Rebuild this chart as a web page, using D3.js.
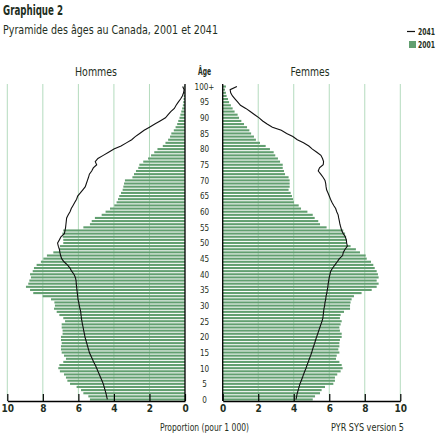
<!DOCTYPE html>
<html>
<head>
<meta charset="utf-8">
<script src="https://cdn.jsdelivr.net/npm/d3@7"></script>
<style>
	body { margin: 0; background: #fff; }
	svg text { font-family: "Liberation Sans Narrow", "DejaVu Sans Condensed", "Arial Narrow", sans-serif; fill: #1f2f22; }
</style>
</head>
<body>
<div id="chart"></div>
<script>
// Data: proportion per 1 000, index = age (0 .. 100+)
var ages = d3.range(0, 101);
var ageLabels = ['0', '5', '10', '15', '20', '25', '30', '35', '40', '45', '50', '55', '60', '65', '70', '75', '80', '85', '90', '95', '100+'];
var xTicks = [0, 2, 4, 6, 8, 10];

var men2001 = [
	5.35, 5.44, 5.72, 5.85, 6.10, 6.47, 6.62, 6.70, 6.81, 7.04,
	7.13, 7.07, 6.85, 6.70, 6.81, 6.94, 6.98, 6.98, 6.94, 6.98,
	6.98, 6.89, 6.89, 6.94, 6.94, 6.75, 6.85, 7.07, 7.22, 7.37,
	7.32, 7.35, 7.54, 8.01, 8.54, 8.72, 8.95, 8.82, 8.76, 8.67,
	8.72, 8.57, 8.50, 8.35, 8.11, 7.97, 7.77, 7.41, 7.07, 7.04,
	6.85, 6.85, 6.88, 6.90, 6.85, 5.72, 5.35, 5.25, 5.07, 4.69,
	4.47, 4.22, 3.98, 3.85, 3.77, 3.70, 3.60, 3.51, 3.47, 3.43,
	3.38, 2.96, 2.87, 2.76, 2.63, 2.57, 2.35, 2.08, 1.91, 1.73,
	1.55, 1.25, 1.10, 0.95, 0.84, 0.77, 0.63, 0.53, 0.44, 0.38,
	0.31, 0.26, 0.21, 0.16, 0.12, 0.10, 0.08, 0.07, 0.05, 0.04,
	0.04
];

var women2001 = [
	5.07, 5.20, 5.48, 5.57, 5.76, 6.23, 6.32, 6.32, 6.45, 6.64,
	6.75, 6.70, 6.57, 6.38, 6.42, 6.57, 6.51, 6.57, 6.57, 6.60,
	6.70, 6.70, 6.60, 6.57, 6.64, 6.70, 6.60, 6.64, 6.83, 7.17,
	7.17, 7.20, 7.26, 7.39, 7.82, 8.39, 8.67, 8.78, 8.67, 8.78,
	8.74, 8.67, 8.56, 8.48, 8.35, 8.11, 8.05, 7.73, 7.50, 7.20,
	6.98, 6.98, 6.95, 6.89, 6.79, 5.85, 5.48, 5.38, 5.18, 5.07,
	4.77, 4.41, 4.28, 4.01, 3.96, 3.90, 3.83, 3.71, 3.77, 3.77,
	3.77, 3.71, 3.51, 3.45, 3.38, 3.38, 3.23, 3.11, 2.96, 2.87,
	2.66, 2.42, 2.10, 1.87, 1.76, 1.60, 1.50, 1.37, 1.20, 1.05,
	0.92, 0.84, 0.67, 0.56, 0.46, 0.36, 0.30, 0.22, 0.18, 0.13,
	0.18
];

var men2041 = [
	4.37, 4.41, 4.45, 4.50, 4.55, 4.60, 4.67, 4.75, 4.82, 4.90,
	4.97, 5.05, 5.14, 5.22, 5.30, 5.38, 5.43, 5.48, 5.53, 5.58,
	5.63, 5.66, 5.70, 5.73, 5.77, 5.80, 5.83, 5.85, 5.87, 5.91,
	5.95, 5.98, 6.02, 6.04, 6.06, 6.08, 6.10, 6.12, 6.13, 6.17,
	6.25, 6.38, 6.47, 6.62, 6.81, 6.94, 7.00, 7.04, 7.07, 7.13,
	7.17, 7.07, 6.98, 6.79, 6.75, 6.72, 6.70, 6.68, 6.66, 6.57,
	6.47, 6.40, 6.30, 6.20, 6.10, 6.04, 5.89, 5.75, 5.61, 5.55,
	5.49, 5.43, 5.38, 5.25, 5.16, 4.97, 5.05, 4.90, 4.60, 4.30,
	4.00, 3.60, 3.30, 3.00, 2.80, 2.55, 2.30, 2.00, 1.70, 1.40,
	1.10, 0.95, 0.80, 0.60, 0.50, 0.38, 0.25, 0.15, 0.08, 0.05,
	0.13
];

var women2041 = [
	4.13, 4.16, 4.20, 4.25, 4.30, 4.35, 4.42, 4.49, 4.55, 4.62,
	4.69, 4.75, 4.82, 4.88, 4.95, 5.01, 5.06, 5.12, 5.18, 5.23,
	5.29, 5.35, 5.41, 5.47, 5.53, 5.59, 5.64, 5.66, 5.68, 5.70,
	5.74, 5.76, 5.80, 5.82, 5.86, 5.89, 5.92, 5.94, 5.97, 6.00,
	6.04, 6.08, 6.19, 6.32, 6.45, 6.57, 6.75, 6.79, 6.89, 7.02,
	6.98, 6.96, 6.90, 6.79, 6.70, 6.65, 6.60, 6.57, 6.53, 6.50,
	6.42, 6.36, 6.25, 6.15, 6.07, 6.00, 5.93, 5.85, 5.82, 5.80,
	5.76, 5.65, 5.52, 5.38, 5.45, 5.66, 5.68, 5.62, 5.53, 5.30,
	5.05, 4.85, 4.55, 4.20, 3.95, 3.60, 3.30, 2.80, 2.50, 2.25,
	2.05, 1.80, 1.55, 1.30, 1.00, 0.85, 0.70, 0.55, 0.45, 0.42,
	0.80
];

var attrs = {
	svgWidth: 442,
	svgHeight: 444,
	plotTop: 84,
	plotBottom: 401,
	leftZero: 185,
	leftTen: 7.3,
	rightZero: 222.7,
	rightTen: 400.3,
	barColor: '#629f70',
	gridColor: '#b4dbbe',
	lineColor: '#111'
};

var svg = d3.select('#chart').append('svg')
	.attr('width', attrs.svgWidth)
	.attr('height', attrs.svgHeight);

// helper: condensed text squeezed to the width seen in the picture
function label(x, yPos, txt, size, width, anchor, bold) {
	var t = svg.append('text')
		.attr('x', x).attr('y', yPos)
		.attr('text-anchor', anchor || 'start')
		.style('font-size', size + 'px')
		.style('font-weight', bold ? 'bold' : 'normal')
		.text(txt);
	if (width) t.attr('textLength', width).attr('lengthAdjust', 'spacingAndGlyphs');
	return t;
}

var y = d3.scaleBand()
	.domain(ages)
	.range([attrs.plotBottom, attrs.plotTop + 1])
	.paddingInner(0.33)
	.paddingOuter(0.15);

var xLeft = d3.scaleLinear().domain([0, 10]).range([attrs.leftZero, attrs.leftTen]);
var xRight = d3.scaleLinear().domain([0, 10]).range([attrs.rightZero, attrs.rightTen]);

// Titles
label(3, 15, 'Graphique 2', 14, 60, 'start', true);
label(3, 34, 'Pyramide des âges au Canada, 2001 et 2041', 12.5, 215, 'start', false);

// Legend
svg.append('line').attr('x1', 407).attr('x2', 415).attr('y1', 31.5).attr('y2', 31.5)
	.attr('stroke', attrs.lineColor).attr('stroke-width', 1.2);
label(418, 35, '2041', 9, 17, 'start', true);
svg.append('rect').attr('x', 409).attr('y', 41).attr('width', 7).attr('height', 7).attr('fill', attrs.barColor);
label(418, 48, '2001', 9, 17, 'start', true);

// Panel headers
label(96, 76, 'Hommes', 12, 42, 'middle', false);
label(204.5, 75, 'Âge', 10, 13, 'middle', true);
label(310, 76, 'Femmes', 12, 39, 'middle', false);

// Grid lines
[xLeft, xRight].forEach(function (scale) {
	svg.append('g').selectAll('line')
		.data(xTicks.filter(function (d) { return d > 0; }))
		.enter().append('line')
		.attr('x1', function (d) { return scale(d); })
		.attr('x2', function (d) { return scale(d); })
		.attr('y1', attrs.plotTop)
		.attr('y2', attrs.plotBottom)
		.attr('stroke', attrs.gridColor)
		.attr('stroke-width', 1);
});

// Bars 2001
svg.append('g').selectAll('rect')
	.data(ages)
	.enter().append('rect')
	.attr('x', function (a) { return xLeft(men2001[a]); })
	.attr('y', function (a) { return y(a); })
	.attr('width', function (a) { return xLeft(0) - xLeft(men2001[a]); })
	.attr('height', y.bandwidth())
	.attr('fill', attrs.barColor);

svg.append('g').selectAll('rect')
	.data(ages)
	.enter().append('rect')
	.attr('x', xRight(0))
	.attr('y', function (a) { return y(a); })
	.attr('width', function (a) { return xRight(women2001[a]) - xRight(0); })
	.attr('height', y.bandwidth())
	.attr('fill', attrs.barColor);

// Lines 2041
var yMid = function (a) { return y(a) + y.bandwidth() / 2; };

svg.append('path')
	.datum(ages)
	.attr('fill', 'none')
	.attr('stroke', attrs.lineColor)
	.attr('stroke-width', 1.1)
	.attr('d', d3.line().x(function (a) { return xLeft(men2041[a]); }).y(yMid));

svg.append('path')
	.datum(ages)
	.attr('fill', 'none')
	.attr('stroke', attrs.lineColor)
	.attr('stroke-width', 1.1)
	.attr('d', d3.line().x(function (a) { return xRight(women2041[a]); }).y(yMid));

// Central axes
[attrs.leftZero, attrs.rightZero].forEach(function (x) {
	svg.append('line')
		.attr('x1', x).attr('x2', x)
		.attr('y1', attrs.plotTop).attr('y2', attrs.plotBottom)
		.attr('stroke', '#000').attr('stroke-width', 1.3);
});

// Age labels
svg.append('g').selectAll('text')
	.data(ageLabels)
	.enter().append('text')
	.attr('x', 204.5)
	.attr('y', function (d) { return yMid(parseInt(d, 10)); })
	.attr('dy', '0.35em')
	.attr('text-anchor', 'middle')
	.style('font-size', '9.5px')
	.attr('transform', function (d) { return 'translate(204.5,0) scale(0.85,1) translate(-204.5,0)'; })
	.text(function (d) { return d; });

// Bottom axes
[xLeft, xRight].forEach(function (scale) {
	var g = svg.append('g')
		.attr('transform', 'translate(0,' + attrs.plotBottom + ')')
		.call(d3.axisBottom(scale).tickValues(xTicks).tickSize(-7).tickSizeOuter(0).tickPadding(4));
	g.selectAll('path').attr('stroke', '#000').attr('stroke-width', 1.3);
	g.selectAll('.tick line').attr('stroke', '#000').attr('stroke-width', 1.2);
	g.selectAll('.tick text')
		.style('font-size', '10px')
		.style('font-weight', 'bold')
		.attr('fill', null);
	g.attr('font-family', null).attr('font-size', null);
});

// Footer
label(204.5, 431, 'Proportion (pour 1 000)', 10, 89, 'middle', false);
label(404, 431, 'PYR SYS version 5', 10, 73, 'end', false);
</script>
</body>
</html>
